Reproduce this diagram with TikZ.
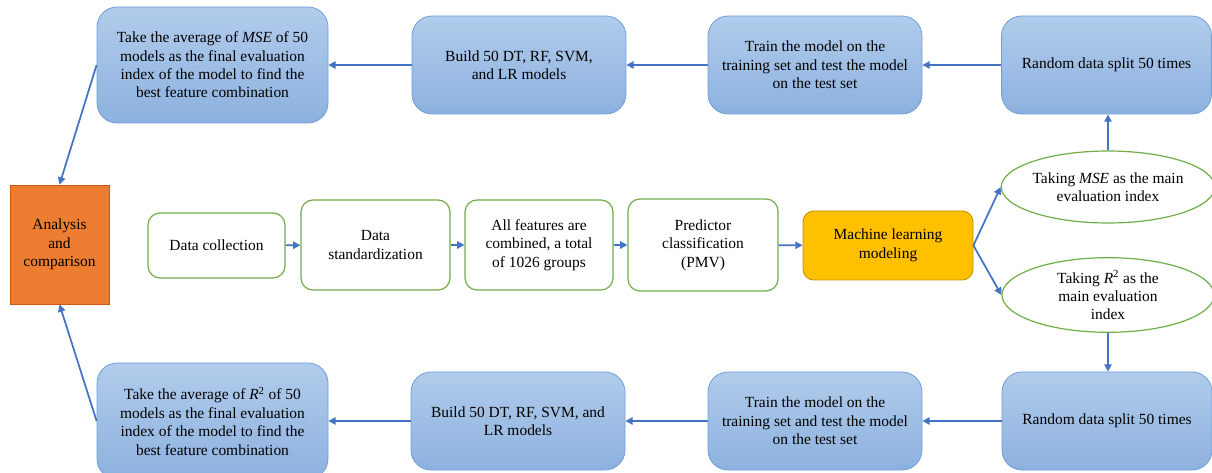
\documentclass[tikz,border=0pt]{standalone}
\usepackage{fontspec}
\setmainfont{Liberation Serif}
\usetikzlibrary{shapes.geometric,arrows.meta}
\definecolor{arr}{HTML}{4472C4}
\definecolor{bluetop}{HTML}{B1CCEB}
\definecolor{bluebot}{HTML}{8DB1DF}
\definecolor{blueedge}{HTML}{6E9FD9}
\definecolor{grn}{HTML}{70AD47}
\definecolor{orng}{HTML}{ED7D31}
\definecolor{orngedge}{HTML}{C55A11}
\definecolor{yel}{HTML}{FFC000}
\definecolor{yeledge}{HTML}{BF9000}
\tikzset{
  txt/.style={align=center, font=\fontsize{11.6}{13.8}\selectfont, inner sep=2pt},
  bluebox/.style={txt, rectangle, rounded corners=15pt, draw=blueedge, line width=0.6pt,
    top color=bluetop, bottom color=bluebot, minimum width=160.5pt, minimum height=73.5pt},
  greenbox/.style={txt, rectangle, rounded corners=9pt, draw=grn, line width=0.9pt, fill=white},
  greenell/.style={txt, ellipse, draw=grn, line width=0.9pt, fill=white, minimum width=159pt, inner sep=0pt},
  conn/.style={draw=arr, line width=1.3pt, -{Triangle[length=5.5pt,width=5.5pt]}},
}
\begin{document}
\begin{tikzpicture}[x=0.75pt,y=-0.75pt]
\useasboundingbox (0,0) rectangle (1212,473);
\clip (0,0) rectangle (1212,473);
% top row
\node[bluebox, minimum width=173.25pt, minimum height=87pt] (tl) at (212.5,65)
  {Take the average of \textit{MSE} of 50\\models as the final evaluation\\index of the model to find the\\best feature combination};
\node[bluebox] (bt) at (519,65) {Build 50 DT, RF, SVM,\\and LR models};
\node[bluebox] (tt) at (815,65) {Train the model on the\\training set and test the model\\on the test set};
\node[bluebox, minimum width=157.5pt] (rt) at (1106.5,65) {Random data split 50 times};
% middle row
\node[txt, rectangle, draw=orngedge, line width=0.6pt, fill=orng, minimum width=74.25pt, minimum height=89.25pt] (or) at (59.5,244.5)
  {Analysis\\and\\comparison};
\node[greenbox, minimum width=102.75pt, minimum height=48.75pt] (dc) at (216.5,245.5) {Data collection};
\node[greenbox, minimum width=111.75pt, minimum height=67.5pt] (ds) at (375.5,245) {Data\\standardization};
\node[greenbox, minimum width=111pt, minimum height=67.5pt] (af) at (539,245) {All features are\\combined, a total\\of 1026 groups};
\node[greenbox, minimum width=112.5pt, minimum height=69pt] (pc) at (703,245) {Predictor\\classification\\(PMV)};
\node[txt, rectangle, rounded corners=8pt, draw=yeledge, line width=0.6pt, fill=yel, minimum width=127.5pt, minimum height=51.75pt] (ml) at (888,245.5)
  {Machine learning\\modeling};
\node[greenell, minimum height=54pt] (mse) at (1108,187) {Taking \textit{MSE} as the main\\evaluation index};
\node[greenell, minimum height=56pt] (r2) at (1108,295) {Taking \textit{R}\textsuperscript{2} as the\\main evaluation\\index};
% bottom row
\node[bluebox, minimum width=157.5pt] (rb) at (1107,421) {Random data split 50 times};
\node[bluebox] (trb) at (815,421) {Train the model on the\\training set and test the model\\on the test set};
\node[bluebox] (bb) at (518,421) {Build 50 DT, RF, SVM, and\\LR models};
\node[bluebox, minimum width=173.25pt, minimum height=87pt] (bl) at (212.5,421)
  {Take the average of \textit{R}\textsuperscript{2} of 50\\models as the final evaluation\\index of the model to find the\\best feature combination};
% connectors
\draw[conn] (rt) -- (tt);
\draw[conn] (tt) -- (bt);
\draw[conn] (bt) -- (tl);
\draw[conn] (tl.west) -- (or.north);
\draw[conn] (dc) -- (ds);
\draw[conn] (ds) -- (af);
\draw[conn] (af) -- (pc);
\draw[conn] (pc) -- (ml);
\draw[conn] (ml.east) -- (mse.west);
\draw[conn] (ml.east) -- (r2.west);
\draw[conn] (mse.north) -- (rt.south -| mse.north);
\draw[conn] (r2.south) -- (rb.north -| r2.south);
\draw[conn] (rb) -- (trb);
\draw[conn] (trb) -- (bb);
\draw[conn] (bb) -- (bl);
\draw[conn] (bl.west) -- (or.south);
\end{tikzpicture}
\end{document}
